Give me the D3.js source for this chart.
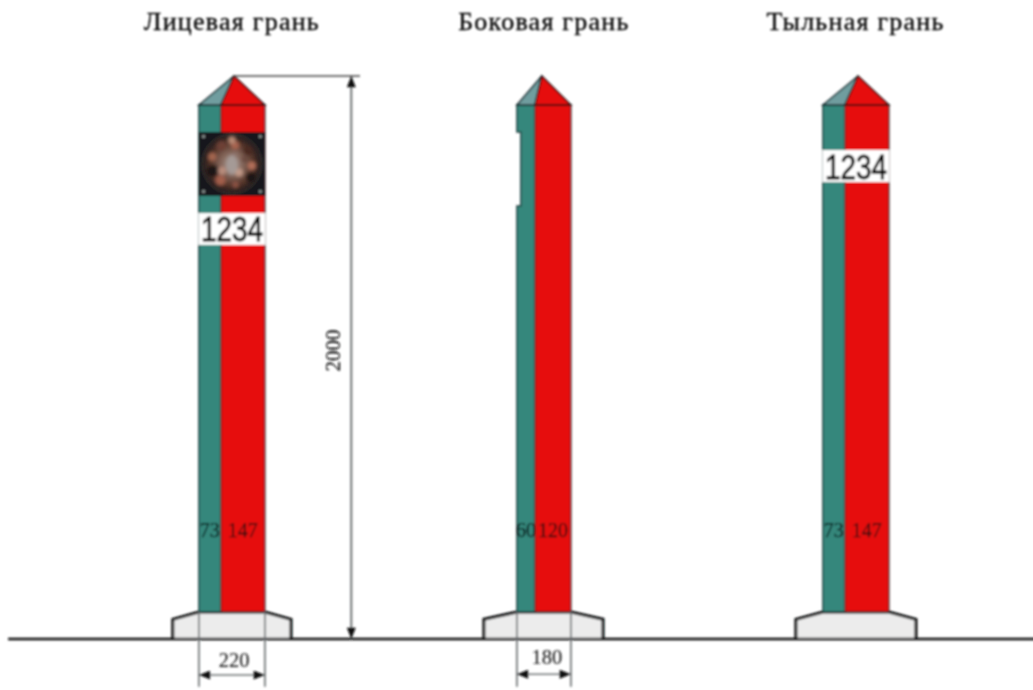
<!DOCTYPE html>
<html>
<head>
<meta charset="utf-8">
<script src="https://cdn.jsdelivr.net/npm/d3@7"></script>
<style>
  html, body { margin: 0; background: #fff; }
  svg { display: block; }
  text { font-family: "Liberation Serif", serif; }
</style>
</head>
<body>
<svg id="canvas"></svg>
<script>
// all sizes in mm of the drawing, the scales turn them into pixels
let faceNames = ["Лицевая грань", "Боковая грань", "Тыльная грань"]
let faceStart = [663, 1723, 2743]
let greenWidth = [73, 60, 73]
let redWidth = [147, 120, 147]
let apexOffset = [117, 83, 117]
let baseLeft = [87, 110, 90]
let baseRight = [87, 107, 90]
let numberTop = [1513, null, 1737]
let numberBottom = [1400, null, 1623]
let titleCenter = [773, 1813, 2852]
let widthLabels = [220, 180, null]
let widthLabelX = [117, 100]
let widthLabelH = [-101, -89]
let arrowH = [-128, -125]

let totalHeight = 2000
let eaveHeight = 1897
let bodyBottom = 96
let shoulderHeight = 70
let plaqueTop = 1801
let plaqueBottom = 1574
let notchTop = 1801
let notchBottom = 1538
let notchDepth = 13
let labelHeight = 362
let plateNumber = "1234"

// emblem: angle and distance from the centre in px, radius, colour
let emblemAngle = [10, 50, 95, 125, 170, 215, 250, 290, 330, 140, 235, 70, 20]
let emblemDist = [19, 21, 20, 23, 21, 20, 20, 21, 21, 11, 12, 13, 10]
let emblemSize = [4, 5, 4, 5, 3, 5, 6, 4, 5, 4, 4, 3, 3]
let emblemTone = ["#a8634f", "#4a2a23", "#b4705a", "#1f1615", "#8f5545", "#a35e4c", "#1d1514", "#a46650", "#6d4035", "#c29a88", "#b98d7d", "#6a4a40", "#8c7168"]
let emblemCorners = [[0.07, 0.07], [0.93, 0.07], [0.07, 0.93], [0.93, 0.93]]

let width = 1033
let height = 690

let x = d3.scaleLinear().domain([0, 3443.3]).range([0, width])
let y = d3.scaleLinear().domain([0, totalHeight]).range([639, 76])
let line = d3.line().x(d => x(d[0])).y(d => y(d[1]))

let svg = d3.select("#canvas")
    .attr("width", width)
    .attr("height", height)

let defs = svg.append("defs")

defs.append("filter").attr("id", "soft")
    .attr("filterUnits", "userSpaceOnUse")
    .attr("x", 0).attr("y", 0).attr("width", width).attr("height", height)
    .append("feGaussianBlur").attr("stdDeviation", 0.8)
defs.append("filter").attr("id", "softer")
    .attr("x", "-20%").attr("y", "-20%").attr("width", "140%").attr("height", "140%")
    .append("feGaussianBlur").attr("stdDeviation", 1.4)

defs.append("marker").attr("id", "arrow")
    .attr("viewBox", "0 0 10 8")
    .attr("refX", 10).attr("refY", 4)
    .attr("markerWidth", 12).attr("markerHeight", 9)
    .attr("markerUnits", "userSpaceOnUse")
    .attr("orient", "auto-start-reverse")
    .append("path").attr("d", "M0,0L10,4L0,8Z").attr("fill", "#111")

let disc = defs.append("radialGradient").attr("id", "disc")
disc.append("stop").attr("offset", "0%").attr("stop-color", "#a99a93")
disc.append("stop").attr("offset", "40%").attr("stop-color", "#86685c")
disc.append("stop").attr("offset", "80%").attr("stop-color", "#553429")
disc.append("stop").attr("offset", "100%").attr("stop-color", "#2b2120")

let page = svg.append("g").attr("filter", "url(#soft)")

let drawBase = (i) => {
    let left = faceStart[i]
    let right = left + greenWidth[i] + redWidth[i]
    let outline = [
        [left - baseLeft[i], 0],
        [left - baseLeft[i], shoulderHeight],
        [left, bodyBottom],
        [right, bodyBottom],
        [right + baseRight[i], shoulderHeight],
        [right + baseRight[i], 0]
    ]
    page.append("path")
        .attr("d", line(outline))
        .attr("fill", "#ececec")
        .attr("stroke", "#0c0f10")
        .attr("stroke-width", 3)
}

let drawPost = (i) => {
    let left = faceStart[i]
    let mid = left + greenWidth[i]
    let right = mid + redWidth[i]
    let apex = left + apexOffset[i]

    let greenBody = [[left, bodyBottom], [left, eaveHeight], [mid, eaveHeight], [mid, bodyBottom]]
    if (i == 1) {
        // the side face has the plaque step cut out of it
        greenBody = [
            [left, bodyBottom], [left, notchBottom], [left + notchDepth, notchBottom],
            [left + notchDepth, notchTop], [left, notchTop], [left, eaveHeight],
            [mid, eaveHeight], [mid, bodyBottom]
        ]
    }
    page.append("path").attr("d", line(greenBody) + "Z")
        .attr("fill", "#36877b").attr("stroke", "#1f3d3e").attr("stroke-width", 1.4)
    page.append("path")
        .attr("d", line([[mid, bodyBottom], [mid, eaveHeight], [right, eaveHeight], [right, bodyBottom]]) + "Z")
        .attr("fill", "#e60f0a").attr("stroke", "#403032").attr("stroke-width", 1.4)

    page.append("path")
        .attr("d", line([[left, eaveHeight], [apex, totalHeight], [mid, eaveHeight]]) + "Z")
        .attr("fill", "#6f9d9f").attr("stroke", "#14262a").attr("stroke-width", 1.5)
    page.append("path")
        .attr("d", line([[mid, eaveHeight], [apex, totalHeight], [right, eaveHeight]]) + "Z")
        .attr("fill", "#e60f0a").attr("stroke", "#1c1214").attr("stroke-width", 1.5)

    if (numberTop[i] != null) {
        page.append("rect")
            .attr("x", x(left) - 0.5)
            .attr("y", y(numberTop[i]))
            .attr("width", x(right) - x(left) + 1)
            .attr("height", y(numberBottom[i]) - y(numberTop[i]))
            .attr("fill", "#fff")
        page.append("text")
            .attr("x", x(left) + 2)
            .attr("y", y(numberBottom[i]) - 3.5)
            .attr("textLength", x(right) - x(left) - 4)
            .attr("lengthAdjust", "spacingAndGlyphs")
            .attr("font-size", 35)
            .attr("fill", "#000")
            .attr("stroke", "#000")
            .attr("stroke-width", 0.8)
            .style("font-family", "'Liberation Sans', sans-serif")
            .text(plateNumber)
    }

    page.append("text")
        .attr("x", x(left + greenWidth[i] / 2))
        .attr("y", y(labelHeight))
        .attr("text-anchor", "middle")
        .attr("font-size", 20)
        .attr("fill", "#0a1c1c")
        .attr("stroke", "#0a1c1c")
        .attr("stroke-width", 0.25)
        .text(greenWidth[i])
    page.append("text")
        .attr("x", x(mid + redWidth[i] / 2))
        .attr("y", y(labelHeight))
        .attr("text-anchor", "middle")
        .attr("font-size", 20)
        .attr("fill", "#3c0a08")
        .attr("stroke", "#3c0a08")
        .attr("stroke-width", 0.25)
        .text(redWidth[i])
}

let drawEmblem = () => {
    let left = faceStart[0]
    let right = left + greenWidth[0] + redWidth[0]
    let px = x(left), py = y(plaqueTop)
    let w = x(right) - x(left), h = y(plaqueBottom) - y(plaqueTop)
    let cx = px + w / 2, cy = py + h / 2

    let g = page.append("g")
    g.append("rect").attr("x", px).attr("y", py).attr("width", w).attr("height", h).attr("fill", "#14181a")
    g.append("circle").attr("cx", cx).attr("cy", cy).attr("r", 30)
        .attr("fill", "#2a2120").attr("stroke", "#3c3634").attr("stroke-width", 1)

    let inner = g.append("g").attr("filter", "url(#softer)")
    inner.append("circle").attr("cx", cx).attr("cy", cy).attr("r", 27).attr("fill", "url(#disc)")

    inner.selectAll("circle.blob")
        .data(emblemAngle)
        .enter()
        .append("circle")
        .attr("class", "blob")
        .attr("cx", (d, k) => cx + emblemDist[k] * Math.sin(d * Math.PI / 180))
        .attr("cy", (d, k) => cy - emblemDist[k] * Math.cos(d * Math.PI / 180))
        .attr("r", (d, k) => emblemSize[k])
        .attr("fill", (d, k) => emblemTone[k])

    inner.append("ellipse").attr("cx", cx).attr("cy", cy + 1).attr("rx", 6).attr("ry", 10)
        .attr("fill", "#a59a96")
    inner.append("ellipse").attr("cx", cx).attr("cy", py + 8).attr("rx", 3.5).attr("ry", 4)
        .attr("fill", "#b98a75")

    g.selectAll("circle.screw")
        .data(emblemCorners)
        .enter()
        .append("circle")
        .attr("class", "screw")
        .attr("cx", d => px + d[0] * w)
        .attr("cy", d => py + d[1] * h)
        .attr("r", 1.8)
        .attr("fill", "#7f8685")
}

let drawDimensions = () => {
    let apex = faceStart[0] + apexOffset[0]
    let vx = 1171

    // height of the post
    page.append("path").attr("d", line([[apex, totalHeight], [1200, totalHeight]]))
        .attr("stroke", "#444", null).attr("stroke-width", 1.6).attr("fill", "none")
    page.append("path").attr("d", line([[vx, totalHeight], [vx, 0]]))
        .attr("stroke", "#5f6365").attr("stroke-width", 1.8).attr("fill", "none")
        .attr("marker-start", "url(#arrow)")
        .attr("marker-end", "url(#arrow)")
    page.append("text")
        .attr("transform", "translate(" + (x(vx) - 11.5) + "," + y(1025) + ") rotate(-90)")
        .attr("text-anchor", "middle")
        .attr("font-size", 21)
        .attr("fill", "#111")
        .attr("stroke", "#111")
        .attr("stroke-width", 0.2)
        .text(totalHeight)

    // widths under the first two posts
    widthLabels.forEach((w, i) => {
        if (w == null) return
        let left = faceStart[i]
        let right = left + w
        ;[left, right].forEach(e => {
            page.append("path").attr("d", line([[e, bodyBottom], [e, -170]]))
                .attr("stroke", "#6e7274").attr("stroke-width", 1.7).attr("fill", "none")
        })
        page.append("path").attr("d", line([[left, arrowH[i]], [right, arrowH[i]]]))
            .attr("stroke", "#6e7274").attr("stroke-width", 1.6).attr("fill", "none")
            .attr("marker-start", "url(#arrow)")
            .attr("marker-end", "url(#arrow)")
        page.append("text")
            .attr("x", x(left + widthLabelX[i]))
            .attr("y", y(widthLabelH[i]))
            .attr("text-anchor", "middle")
            .attr("font-size", 20.5)
            .attr("fill", "#222")
            .attr("stroke", "#222")
            .attr("stroke-width", 0.15)
            .text(w)
    })
}

faceNames.forEach((name, i) => drawBase(i))

// ground line
page.append("path")
    .attr("d", "M" + x(27) + "," + y(0) + "H" + (width + 5))
    .attr("stroke", "#0c0f10").attr("stroke-width", 2.6).attr("fill", "none")

faceNames.forEach((name, i) => drawPost(i))
drawEmblem()
drawDimensions()

page.selectAll("text.title")
    .data(faceNames)
    .enter()
    .append("text")
    .attr("class", "title")
    .attr("x", (d, i) => x(titleCenter[i]))
    .attr("y", 30)
    .attr("text-anchor", "middle")
    .attr("font-size", 26)
    .attr("letter-spacing", 1.25)
    .attr("fill", "#000")
    .attr("stroke", "#000")
    .attr("stroke-width", 0.3)
    .text(d => d)
</script>
</body>
</html>
